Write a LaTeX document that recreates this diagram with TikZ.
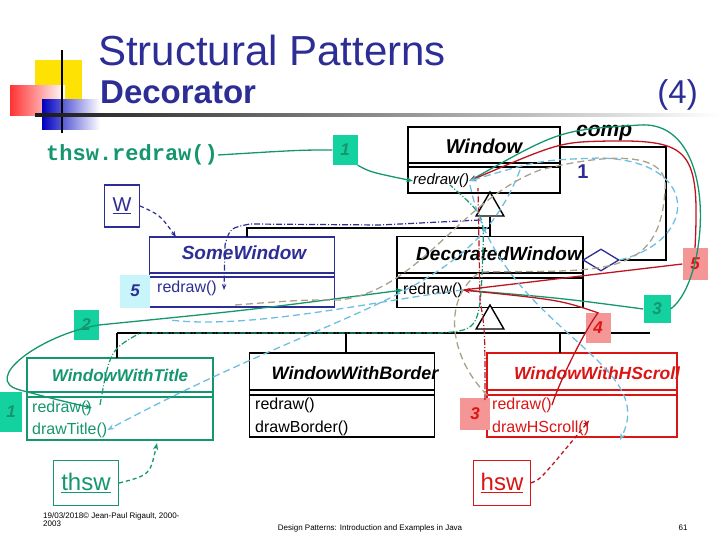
\documentclass[tikz,border=0pt]{standalone}
\usepackage{fontspec}
\setmainfont{Liberation Sans}
\newfontfamily\monof{Liberation Mono}
\usetikzlibrary{arrows.meta,shapes.geometric}
\definecolor{tgreen}{RGB}{20,150,110}
\definecolor{gbox}{RGB}{20,210,160}
\definecolor{tred}{RGB}{220,20,20}
\definecolor{pbox}{RGB}{245,150,150}
\definecolor{navy}{RGB}{45,45,150}
\definecolor{lblue}{RGB}{110,190,225}
\definecolor{tan}{RGB}{170,160,140}
\definecolor{dred}{RGB}{190,20,30}
\definecolor{cbox}{RGB}{200,245,250}
\tikzset{
  fs/.style={font=\fontsize{#1}{#1}\selectfont},
  cls/.style={draw,line width=1.4pt,inner sep=0pt},
  cname/.style={font=\bfseries\itshape\fontsize{#1}{#1}\selectfont},
  meth/.style={anchor=west,inner sep=0pt,font=\fontsize{16}{16}\selectfont},
  num/.style={minimum width=25pt,minimum height=30pt,inner sep=0pt,font=\bfseries\itshape\fontsize{17}{17}\selectfont},
  gl/.style={tgreen,line width=1.3pt,-{Stealth[length=7pt]}},
  rl/.style={dred,line width=1.3pt,-{Stealth[length=7pt]}},
  bl/.style={lblue,line width=1.3pt,dashed,dash pattern=on 7pt off 4pt,-{Stealth[length=7pt]}},
  tl/.style={tan,line width=1.3pt,dash pattern=on 7pt off 4pt},
  inh/.style={draw,line width=1.4pt,isosceles triangle,shape border rotate=90,isosceles triangle apex angle=60,minimum height=24pt,inner sep=0pt,fill=white},
}
\begin{document}
\begin{tikzpicture}[x=1pt,y=-1pt]
\useasboundingbox (0,0) rectangle (720,540);
% logo
\fill[yellow!85!orange] (35,60) rectangle (82,102);
\shade[left color=red!80,right color=white] (10,86) rectangle (65,116);
\shade[left color=blue!75!black,right color=white] (42,100) rectangle (100,130);
\draw[line width=1.5pt] (62,50) -- (62,133);
\shade[left color=black!90,right color=white] (35,114) rectangle (720,116.5);
\node[anchor=west,fs=42,inner sep=0pt,navy] (t1) at (98,50) {Structural Patterns};
\node[anchor=west,inner sep=0pt,font=\bfseries\fontsize{33}{33}\selectfont,navy] (t2) at (100,92) {Decorator};
\node[anchor=east,fs=33,inner sep=0pt,navy] (t3) at (698,95) {(4)};
% call
\node[anchor=west,inner sep=0pt,tgreen,font=\monof\bfseries\fontsize{22}{22}\selectfont] (call) at (46,155) {thsw.redraw()};
\node[num,fill=gbox,text=tgreen] (n1a) at (345,150) {1};
% Window
\node[cls,minimum width=152pt,minimum height=66pt] (win) at (484,160) {};
\draw[line width=1.4pt] (408,163) -- (560,163) (408,167) -- (560,167);
\node[cname=20] (wint) at (484,146) {Window};
\node[meth,font=\itshape\fontsize{15}{15}\selectfont] (winr) at (413,181) {redraw()};
\node[anchor=west,inner sep=0pt,font=\bfseries\itshape\fontsize{21}{21}\selectfont] (comp) at (576,133) {comp};
\node[navy,inner sep=0pt,font=\bfseries\fontsize{20}{20}\selectfont] (one) at (583,172) {1};
% SomeWindow
\node[cls,navy,minimum width=185pt,minimum height=70pt] (sw) at (242,272) {};
\draw[navy,line width=1.4pt] (150,273) -- (335,273) (150,277) -- (335,277);
\node[navy,cname=19] (swt) at (244,253) {SomeWindow};
\node[meth,navy] (swr) at (157,288) {redraw()};
\node[num,fill=cbox,text=navy,minimum width=30pt,minimum height=33pt] (n5a) at (135,291) {5};
\node[draw=navy,line width=1.3pt,minimum width=35pt,minimum height=42pt,inner sep=0pt,navy,fs=20] (w) at (122,206) {\underline{W}};
% DecoratedWindow
\node[cls,minimum width=186pt,minimum height=71pt] (dw) at (490,272) {};
\draw[line width=1.4pt] (397,273) -- (583,273) (397,278) -- (583,278);
\node[cname=19] (dwt) at (499,254) {DecoratedWindow};
\node[meth] (dwr) at (403,290) {redraw()};
% aggregation
\node[draw=navy,line width=1.3pt,diamond,fill=white,minimum width=36pt,minimum height=22pt,inner sep=0pt] (dia) at (601,260) {};
\draw[line width=1.4pt] (win.east|-0,147) -- (666,147) -- (666,260) -- (dia.east);
% inheritance 1
\node[inh] (tri1) at (490,208) {};
\draw[line width=1.4pt] (tri1.south) -- (dw.north);
\draw[line width=1.4pt] (247,237) -- (247,228) -- (490,228);
% subclasses
\node[cls,tgreen,minimum width=186pt,minimum height=82pt] (wt) at (120,399) {};
\draw[tgreen,line width=1.4pt] (27,392) -- (213,392) (27,397) -- (213,397);
\node[tgreen,cname=17] (wtt) at (120,375) {WindowWithTitle};
\node[meth,tgreen] (wtr) at (32,408) {redraw()};
\node[meth,tgreen] (wtd) at (32,430) {drawTitle()};
\node[num,fill=gbox,text=tgreen,minimum width=22pt,minimum height=40pt] (n1b) at (11,412) {1};

\node[cls,minimum width=185pt,minimum height=84pt] (wb) at (342,395) {};
\draw[line width=1.4pt] (250,390) -- (435,390) (250,395) -- (435,395);
\node[cname=18] (wbt) at (355,373) {WindowWithBorder};
\node[meth] (wbr) at (255,405) {redraw()};
\node[meth] (wbd) at (255,428) {drawBorder()};

\node[cls,tred,minimum width=190pt,minimum height=84pt] (wh) at (582,395) {};
\draw[tred,line width=1.4pt] (487,390) -- (677,390) (487,395) -- (677,395);
\node[tred,cname=17.5] (wht) at (597,373) {WindowWithHScroll};
\node[meth,tred] (whr) at (492,405) {redraw()};
\node[meth,tred] (whd) at (492,428) {drawHScroll()};
\node[num,fill=pbox,text=tred,minimum width=30pt,minimum height=32pt] (n3a) at (475,414) {3};

\node[inh] (tri2) at (490,321) {};
\draw[line width=1.4pt] (117,333) -- (650,333);
\draw[line width=1.4pt] (117,333) -- (117,358) (346,333) -- (346,353) (560,333) -- (560,353);
% objects
\node[draw=tgreen,line width=1.3pt,minimum width=65pt,minimum height=45pt,inner sep=0pt,tgreen,fs=24] (thsw) at (86,483) {\underline{thsw}};
\node[draw=tred,line width=1.3pt,minimum width=57pt,minimum height=45pt,inner sep=0pt,tred,fs=24] (hsw) at (502,483) {\underline{hsw}};
% numbers
\node[num,fill=gbox,text=tgreen] (n2) at (86,325) {2};
\node[num,fill=pbox,text=tred] (n4) at (598,328) {4};
\node[num,fill=gbox,text=tgreen,minimum width=27pt,minimum height=28pt] (n3b) at (657,309) {3};
\node[num,fill=pbox,text=tred,minimum width=25pt,minimum height=32pt] (n5b) at (695,264) {5};
% footer
\node[anchor=north west,align=left,fs=8,inner sep=0pt] (f1) at (43,512) {19/03/2018© Jean-Paul Rigault, 2000-\\2003};
\node[fs=8,inner sep=0pt] (f2) at (370,528) {Design Patterns: Introduction and Examples in Java};
\node[fs=8,inner sep=0pt] (f3) at (683,528) {61};
% interactions
\draw[navy,line width=1.2pt,dash pattern=on 4pt off 3pt,-{Stealth[length=6pt]}] (w.east) .. controls (160,215) .. (176,237);
\draw[navy,line width=1.2pt,dash pattern=on 6pt off 2pt on 1pt off 2pt,-{Stealth[length=6pt]}] (480,220) -- (380,225) -- (250,224) .. controls (230,228) .. (225,245) -- (224,290);
\draw[tgreen,line width=1.3pt] (call.east) .. controls (300,150) .. (n1a.west);
\draw[gl] (n1a.south east) .. controls (370,172) .. (winr.west);
\draw[gl] (n2.east) .. controls (250,310) .. (dwr.west);
\draw[gl] (n2.east) .. controls (40,335) and (-20,380) .. (20,390) .. controls (50,398) .. (wtr.east);
\draw[tgreen,line width=1.3pt] (dwr.east) .. controls (560,298) .. (n3b.west);
\draw[gl] (n3b.east) .. controls (710,280) and (720,120) .. (640,125) .. controls (560,130) .. (winr.east);
\draw[rl] (whr.east) .. controls (560,380) and (585,330) .. (n4.north) .. controls (560,300) .. (dwr.east);
\draw[dred,line width=1.3pt] (dwr.east) -- (n5b.west);
\draw[rl] (n5b.north) .. controls (700,150) and (690,140) .. (610,141) .. controls (560,142) .. (winr.east);
\draw[dred,line width=1.3pt,dash pattern=on 4pt off 3pt,-{Stealth[length=7pt]}] (hsw.east) .. controls (540,480) .. (whd.north east);
\draw[tgreen,line width=1.3pt,dash pattern=on 4pt off 3pt,-{Stealth[length=7pt]}] (thsw.east) .. controls (150,475) .. (157,443);
\draw[tgreen,line width=1.2pt,dash pattern=on 6pt off 2pt on 1pt off 2pt] (100,405) .. controls (110,350) .. (140,333) -- (440,333) .. controls (480,330) .. (483,250) .. controls (484,215) .. (450,185);
\draw[dred,line width=1.2pt,dash pattern=on 6pt off 2pt on 1pt off 2pt] (485,400) .. controls (485,330) .. (480,300) -- (478,188);
\draw[bl] (470,185) .. controls (500,330) and (660,360) .. (620,440);
\draw[bl] (dia.east) .. controls (700,240) and (700,160) .. (600,158) .. controls (540,160) .. (winr.east);
\draw[bl] (520,170) .. controls (470,300) and (350,300) .. (wtd.east);
\draw[lblue,line width=1.3pt,dash pattern=on 7pt off 4pt] (dwr.east) .. controls (380,300) and (250,330) .. (170,320);
\draw[tl] (235,305) .. controls (300,300) .. (340,300) .. controls (420,290) and (460,200) .. (540,170) .. controls (620,150) and (670,155) .. (665,190) .. controls (660,280) and (600,270) .. (480,272) .. controls (440,300) and (450,360) .. (490,398);
\end{tikzpicture}
\end{document}
